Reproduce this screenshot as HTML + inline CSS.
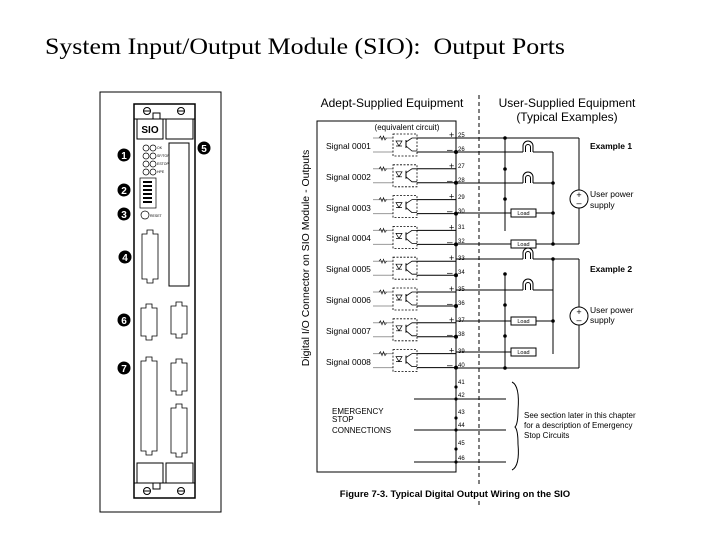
<!DOCTYPE html>
<html><head><meta charset="utf-8"><style>
html,body{margin:0;padding:0;background:#fff;}
svg{display:block;}
</style></head><body>
<svg width="720" height="540" viewBox="0 0 720 540" xmlns="http://www.w3.org/2000/svg" font-family="Liberation Sans, sans-serif">
<rect width="720" height="540" fill="#fff"/>
<text x="45" y="54" font-family="Liberation Serif, serif" font-size="23" fill="#000" textLength="520" lengthAdjust="spacingAndGlyphs">System Input/Output Module (SIO):&#160; Output Ports</text>

<!-- Left module panel -->
<rect x="100" y="92" width="121" height="420" fill="none" stroke="#000" stroke-width="1"/>
<rect x="134" y="104" width="61" height="394" fill="none" stroke="#000" stroke-width="1.5"/>
<line x1="134" y1="119" x2="195" y2="119" stroke="#000"/>
<line x1="134" y1="483" x2="195" y2="483" stroke="#000"/>
<circle cx="147" cy="111" r="3.5" fill="none" stroke="#000"/><line x1="143.5" y1="111" x2="150.5" y2="111" stroke="#000"/>
<circle cx="181" cy="111" r="3.5" fill="none" stroke="#000"/><line x1="177.5" y1="111" x2="184.5" y2="111" stroke="#000"/>
<circle cx="147" cy="491" r="3.5" fill="none" stroke="#000"/><line x1="143.5" y1="491" x2="150.5" y2="491" stroke="#000"/>
<circle cx="181" cy="491" r="3.5" fill="none" stroke="#000"/><line x1="177.5" y1="491" x2="184.5" y2="491" stroke="#000"/>
<rect x="153" y="113" width="7" height="6" fill="none" stroke="#000"/>
<rect x="153" y="483" width="7" height="6" fill="none" stroke="#000"/>
<rect x="137" y="119" width="26" height="20" fill="none" stroke="#000"/>
<text x="150" y="133" font-size="10" font-weight="bold" text-anchor="middle">SIO</text>
<rect x="166" y="119" width="27" height="20" fill="none" stroke="#000"/>
<rect x="137" y="463" width="26" height="20" fill="none" stroke="#000"/>
<rect x="166" y="463" width="27" height="20" fill="none" stroke="#000"/>
<rect x="169" y="143" width="20" height="143" fill="none" stroke="#000"/>
<g fill="none" stroke="#000" stroke-width="0.7">
<circle cx="146" cy="148" r="3"/><circle cx="153" cy="148" r="3"/>
<circle cx="146" cy="156" r="3"/><circle cx="153" cy="156" r="3"/>
<circle cx="146" cy="164" r="3"/><circle cx="153" cy="164" r="3"/>
<circle cx="146" cy="172" r="3"/><circle cx="153" cy="172" r="3"/>
<rect x="140" y="178" width="16" height="30"/>
<circle cx="145" cy="215" r="4"/>
</g>
<g fill="#000" font-size="3.5"><text x="157" y="149">OK</text><text x="157" y="157">SF/TOP</text><text x="157" y="165">ESTOP</text><text x="157" y="173">HPE</text><text x="150" y="217">RESET</text></g>
<g fill="#000"><rect x="143" y="181" width="9" height="2"/><rect x="143" y="185" width="9" height="2"/><rect x="143" y="189" width="9" height="2"/><rect x="143" y="193" width="9" height="2"/><rect x="143" y="197" width="9" height="2"/><rect x="143" y="201" width="9" height="2"/></g>
<g fill="none" stroke="#000" stroke-width="0.8">
<path d="M142 234 h5 v-4 h6 v4 h5 v45 h-5 v4 h-6 v-4 h-5 z"/>
<path d="M141 308 h5 v-4 h6 v4 h5 v28 h-5 v4 h-6 v-4 h-5 z"/>
<path d="M171 306 h5 v-4 h6 v4 h5 v28 h-5 v4 h-6 v-4 h-5 z"/>
<path d="M141 361 h5 v-4 h6 v4 h5 v90 h-5 v4 h-6 v-4 h-5 z"/>
<path d="M171 363 h5 v-4 h6 v4 h5 v28 h-5 v4 h-6 v-4 h-5 z"/>
<path d="M171 408 h5 v-4 h6 v4 h5 v45 h-5 v4 h-6 v-4 h-5 z"/>
</g>
<g font-size="10" font-weight="bold" text-anchor="middle" fill="#fff">
<circle cx="124" cy="155" r="6.5" fill="#000"/><text x="124" y="159">1</text>
<circle cx="124" cy="190" r="6.5" fill="#000"/><text x="124" y="194">2</text>
<circle cx="124" cy="214" r="6.5" fill="#000"/><text x="124" y="218">3</text>
<circle cx="125" cy="257" r="6.5" fill="#000"/><text x="125" y="261">4</text>
<circle cx="204" cy="148" r="6.5" fill="#000"/><text x="204" y="152">5</text>
<circle cx="124" cy="320" r="6.5" fill="#000"/><text x="124" y="324">6</text>
<circle cx="124" cy="368" r="6.5" fill="#000"/><text x="124" y="372">7</text>
</g>

<text x="392" y="107" font-size="12" text-anchor="middle">Adept-Supplied Equipment</text>
<text x="567" y="107" font-size="12" text-anchor="middle">User-Supplied Equipment</text>
<text x="567" y="121" font-size="12" text-anchor="middle">(Typical Examples)</text>
<line x1="479" y1="95" x2="479" y2="505" stroke="#000" stroke-dasharray="4,3"/>
<path d="M317 121 H456 V472 H317 Z" fill="none" stroke="#000"/>
<text transform="translate(309,258) rotate(-90)" font-size="10.5" text-anchor="middle">Digital I/O Connector on SIO Module - Outputs</text>
<text x="407" y="130" font-size="8" text-anchor="middle">(equivalent circuit)</text>

<defs>
<g id="sig">
<line x1="373" y1="138" x2="393" y2="138" stroke="#999"/>
<line x1="373" y1="152" x2="393" y2="152" stroke="#999"/>
<path d="M379 138 l1.5 -2 l1.5 4 l1.5 -4 l1.5 4 l1.5 -2" fill="none" stroke="#000" stroke-width="0.6"/>
<rect x="393" y="134" width="24" height="22" fill="none" stroke="#000" stroke-dasharray="2,1.5" stroke-width="0.8"/>
<path d="M396 141 h6 l-3 5 z M396 146 h6" fill="none" stroke="#000" stroke-width="0.7"/>
<line x1="406" y1="140" x2="406" y2="148" stroke="#000"/>
<path d="M406 142 L412 138 L417 138 M406 146 L412 151 L417 151" fill="none" stroke="#000" stroke-width="0.8"/>
<line x1="417" y1="138" x2="456" y2="138" stroke="#000"/>
<line x1="417" y1="152" x2="456" y2="152" stroke="#000"/>
<circle cx="456" cy="152" r="2" fill="#000"/>
<text x="449" y="138" font-size="9">+</text>
<text x="447" y="153" font-size="10">–</text>
</g>
</defs>
<use href="#sig"/>
<use href="#sig" y="30.8"/>
<use href="#sig" y="61.6"/>
<use href="#sig" y="92.4"/>
<use href="#sig" y="123.2"/>
<use href="#sig" y="154"/>
<use href="#sig" y="184.8"/>
<use href="#sig" y="215.6"/>
<g font-size="8.5" fill="#000">
<text x="326" y="149">Signal 0001</text>
<text x="326" y="180">Signal 0002</text>
<text x="326" y="211">Signal 0003</text>
<text x="326" y="241">Signal 0004</text>
<text x="326" y="272">Signal 0005</text>
<text x="326" y="303">Signal 0006</text>
<text x="326" y="334">Signal 0007</text>
<text x="326" y="365">Signal 0008</text>
</g>
<g font-size="6" fill="#000">
<text x="458" y="137">25</text><text x="458" y="151">26</text>
<text x="458" y="168">27</text><text x="458" y="182">28</text>
<text x="458" y="199">29</text><text x="458" y="213">30</text>
<text x="458" y="229">31</text><text x="458" y="243">32</text>
<text x="458" y="260">33</text><text x="458" y="274">34</text>
<text x="458" y="291">35</text><text x="458" y="305">36</text>
<text x="458" y="322">37</text><text x="458" y="336">38</text>
<text x="458" y="353">39</text><text x="458" y="367">40</text>
<text x="458" y="384">41</text><text x="458" y="397">42</text>
<text x="458" y="414">43</text><text x="458" y="427">44</text>
<text x="458" y="445">45</text><text x="458" y="460">46</text>
</g>
<g fill="#000"><circle cx="456" cy="387" r="1.6"/><circle cx="456" cy="399" r="1.6"/><circle cx="456" cy="418" r="1.6"/><circle cx="456" cy="430" r="1.6"/><circle cx="456" cy="449" r="1.6"/><circle cx="456" cy="462" r="1.6"/></g>
<g stroke="#000" fill="none">
<line x1="414" y1="399" x2="506" y2="399"/>
<line x1="414" y1="430" x2="506" y2="430"/>
<line x1="414" y1="462" x2="506" y2="462"/>
<path d="M512 382 Q520 386 518 410 Q518 424 515 427 Q518 430 518 444 Q520 466 512 470"/>
</g>
<g font-size="8" fill="#000">
<text x="332" y="414">EMERGENCY</text><text x="332" y="422">STOP</text><text x="332" y="433">CONNECTIONS</text>
<text x="524" y="418">See section later in this chapter</text>
<text x="524" y="428">for a description of Emergency</text>
<text x="524" y="438">Stop Circuits</text>
</g>

<g stroke="#000" fill="none">
<line x1="456" y1="138" x2="579" y2="138"/>
<line x1="505" y1="138" x2="505" y2="231"/>
<line x1="579" y1="138" x2="579" y2="190"/>
<line x1="579" y1="208" x2="579" y2="244"/>
<line x1="553" y1="152" x2="553" y2="244"/>
<line x1="456" y1="244" x2="579" y2="244"/>
<line x1="456" y1="152" x2="523" y2="152"/><line x1="533" y1="152" x2="553" y2="152"/>
<line x1="456" y1="183" x2="523" y2="183"/><line x1="533" y1="183" x2="553" y2="183"/>
<line x1="456" y1="213" x2="511" y2="213"/><line x1="536" y1="213" x2="553" y2="213"/>
<rect x="511" y="209" width="25" height="8"/><rect x="511" y="240" width="25" height="8" fill="#fff"/>
<path d="M523 152 v-6 a5 5 0 0 1 10 0 v6 M525.5 152 v-5 a2.5 2.5 0 0 1 5 0 v5"/>
<path d="M523 183 v-6 a5 5 0 0 1 10 0 v6 M525.5 183 v-5 a2.5 2.5 0 0 1 5 0 v5"/>
<circle cx="579" cy="199" r="9" fill="#fff"/>
<line x1="456" y1="259" x2="523" y2="259"/><line x1="533" y1="259" x2="579" y2="259"/>
<line x1="579" y1="259" x2="579" y2="307"/><line x1="579" y1="325" x2="579" y2="368"/>
<line x1="553" y1="259" x2="553" y2="354"/>
<line x1="456" y1="290" x2="523" y2="290"/><line x1="533" y1="290" x2="553" y2="290"/>
<line x1="456" y1="321" x2="511" y2="321"/><line x1="536" y1="321" x2="553" y2="321"/>
<line x1="456" y1="352" x2="511" y2="352"/>
<rect x="511" y="317" width="25" height="8"/><rect x="511" y="348" width="25" height="8"/>
<line x1="505" y1="274" x2="505" y2="368"/>
<line x1="456" y1="368" x2="579" y2="368"/>
<path d="M523 259 v-6 a5 5 0 0 1 10 0 v6 M525.5 259 v-5 a2.5 2.5 0 0 1 5 0 v5 M521 259 h2 M533 259 h2"/>
<path d="M523 290 v-6 a5 5 0 0 1 10 0 v6 M525.5 290 v-5 a2.5 2.5 0 0 1 5 0 v5"/>
<circle cx="579" cy="316" r="9" fill="#fff"/>
</g>
<g fill="#000">
<circle cx="505" cy="138" r="1.8"/><circle cx="505" cy="169" r="1.8"/><circle cx="505" cy="199" r="1.8"/>
<circle cx="553" cy="183" r="1.8"/><circle cx="553" cy="213" r="1.8"/><circle cx="553" cy="244" r="1.8"/>
<circle cx="553" cy="259" r="1.8"/><circle cx="553" cy="321" r="1.8"/>
<circle cx="505" cy="274" r="1.8"/><circle cx="505" cy="305" r="1.8"/><circle cx="505" cy="336" r="1.8"/><circle cx="505" cy="368" r="1.8"/>
</g>
<g font-size="5.5" text-anchor="middle" fill="#000">
<text x="523.5" y="215">Load</text><text x="523.5" y="246">Load</text>
<text x="523.5" y="323">Load</text><text x="523.5" y="354">Load</text>
</g>
<g font-size="9" fill="#000" text-anchor="middle"><text x="579" y="198">+</text><text x="579" y="206">–</text><text x="579" y="315">+</text><text x="579" y="323">–</text></g>
<g font-size="8.5" fill="#000">
<text x="590" y="149" font-weight="bold">Example 1</text>
<text x="590" y="197">User power</text><text x="590" y="208">supply</text>
<text x="590" y="272" font-weight="bold">Example 2</text>
<text x="590" y="313">User power</text><text x="590" y="323">supply</text>
</g>
<rect x="330" y="486" width="250" height="14" fill="#fff"/>
<text x="455" y="497" font-size="9.5" font-weight="bold" text-anchor="middle">Figure 7-3. Typical Digital Output Wiring on the SIO</text>
</svg>
</body></html>
